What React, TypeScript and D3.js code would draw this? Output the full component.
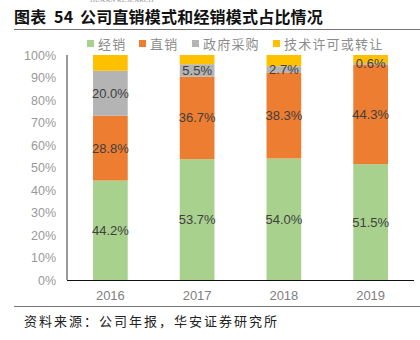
import React from "react";
import * as d3 from "d3";

const years = ["2016", "2017", "2018", "2019"];
const seriesNames = ["经销", "直销", "政府采购", "技术许可或转让"];
const distribution = [44.2, 53.7, 54.0, 51.5];
const direct = [28.8, 36.7, 38.3, 44.3];
const government = [20.0, 5.5, 2.7, 0.6];
const licensing = [7.0, 4.1, 5.0, 3.6];
const colors = ["#A9D18E", "#ED7D31", "#B4B4B4", "#FFC000"];
const yTicks = [0, 10, 20, 30, 40, 50, 60, 70, 80, 90, 100];
const labelSeries = [0, 1, 2];

const W = 420, H = 340;
const plot = { left: 67, right: 414, top: 55, bottom: 280 };

export default function App() {
  const series = [distribution, direct, government, licensing];
  const rows = years.map((y, i) => {
    const r: any = { year: y };
    seriesNames.forEach((n, k) => (r[n] = series[k][i]));
    return r;
  });
  const stacked = d3.stack<any>().keys(seriesNames)(rows);
  const x = d3.scaleBand().domain(years).range([plot.left, plot.right]).paddingInner(0.6).paddingOuter(0.3);
  const y = d3.scaleLinear().domain([0, 100]).range([plot.bottom, plot.top]);
  const cjk = "'Noto Sans CJK SC', sans-serif";
  const num = "'Liberation Sans', Arial, sans-serif";

  const legendX = [87, 139, 192, 273];

  return (
    <svg width={W} height={H} style={{ position: "absolute", left: 0, top: 0, background: "#fff" }}>
      <text x={90} y={2} fontFamily="'Liberation Serif', serif" fontSize={7} fill="#999">HUAAN RESEARCH</text>
      <text x={14} y={22.5} fontFamily={cjk} fontSize={16} fontWeight="bold" fill="#111" letterSpacing={0.2}>
        <tspan>图表</tspan>
        <tspan x={54}>54</tspan>
        <tspan x={80}>公司直销模式和经销模式占比情况</tspan>
      </text>
      <line x1={14} x2={420} y1={29.5} y2={29.5} stroke="#777" strokeWidth={1} />

      {seriesNames.map((n, k) => (
        <g key={n}>
          <rect x={legendX[k]} y={40} width={7} height={7} fill={colors[k]} />
          <text x={legendX[k] + 11} y={48.5} fontFamily={cjk} fontSize={13} letterSpacing={1.2} fill="#8c8c8c">{n}</text>
        </g>
      ))}

      {yTicks.map((t) => (
        <text key={t} x={56} y={y(t) + 4.5} textAnchor="end" fontFamily={num} fontSize={12.5} fill="#999">{t}%</text>
      ))}

      {stacked.map((s, k) => (
        <g key={s.key}>
          {s.map((d, i) => (
            <rect key={i} x={x(years[i])!} width={x.bandwidth()} y={y(d[1])} height={y(d[0]) - y(d[1])} fill={colors[k]} />
          ))}
        </g>
      ))}

      {stacked.filter((_, k) => labelSeries.includes(k)).map((s) => (
        <g key={"l" + s.key}>
          {s.map((d, i) => (
            <text key={i} x={x(years[i])! + x.bandwidth() / 2} y={y((d[0] + d[1]) / 2) + 4.5}
              textAnchor="middle" fontFamily={num} fontSize={13} fill="#404040">
              {(d[1] - d[0]).toFixed(1)}%
            </text>
          ))}
        </g>
      ))}

      <line x1={plot.left} x2={plot.left} y1={plot.top} y2={plot.bottom} stroke="#333" strokeWidth={1} />
      <line x1={plot.left} x2={plot.right} y1={plot.bottom + 0.5} y2={plot.bottom + 0.5} stroke="#111" strokeWidth={1.2} />

      {years.map((yr) => (
        <text key={yr} x={x(yr)! + x.bandwidth() / 2} y={300} textAnchor="middle" fontFamily={num} fontSize={13} fill="#808080">{yr}</text>
      ))}

      <line x1={14} x2={420} y1={306.5} y2={306.5} stroke="#777" strokeWidth={1} />
      <text x={24} y={326} fontFamily={cjk} fontSize={13} letterSpacing={2} fill="#222">资料来源：公司年报，华安证券研究所</text>
    </svg>
  );
}
